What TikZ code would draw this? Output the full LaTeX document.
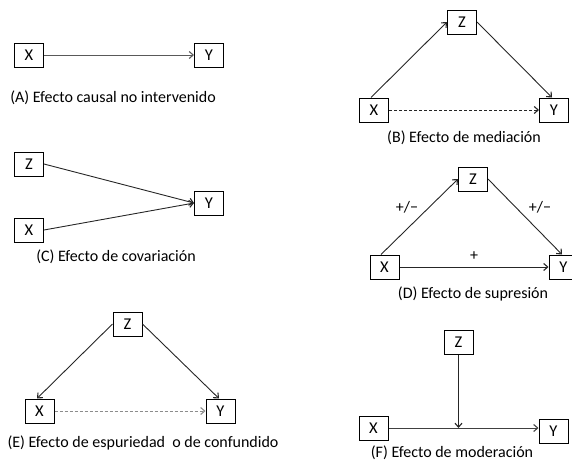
\documentclass[tikz,border=0pt]{standalone}
\usepackage{fontspec}
\setmainfont{Carlito}
\usetikzlibrary{arrows.meta,calc}
\begin{document}
\begin{tikzpicture}[x=1pt,y=-1pt,
  vbox/.style={draw=black,line width=1pt,minimum width=29pt,minimum height=24pt,inner sep=0pt,font=\fontsize{16.5}{18}\selectfont},
  captxt/.style={inner sep=0pt,font=\fontsize{16}{18}\selectfont},
  sgn/.style={inner sep=0pt,font=\fontsize{16}{18}\selectfont},
  arr/.style={line width=0.9pt,draw=black!85,-{Straight Barb[length=4pt,width=7pt,line width=1.1pt]}},
  dasharr/.style={arr,dash pattern=on 3pt off 2pt},
  grayarr/.style={arr,draw=black!45,dash pattern=on 3pt off 2pt}]
\useasboundingbox (0,0) rectangle (572,464);
% (A)
\node[vbox] (XA) at (29,55) {X};
\node[vbox] (YA) at (209,55) {Y};
\node[captxt] (LA) at (113,98) {(A) Efecto causal no intervenido};
\draw[arr,draw=black!65] (XA.east) -- (YA.west);
% (B)
\node[vbox] (ZB) at (462,22) {Z};
\node[vbox] (XB) at (374,110) {X};
\node[vbox] (YB) at (554,110) {Y};
\node[captxt] (LB) at (464,138) {(B) Efecto de mediación};
\coordinate (XBt) at ($(XB.north)+(-3,0)$);
\coordinate (YBt) at ($(YB.north)+(-2,0)$);
\draw[arr] (XBt) -- (ZB.west);
\draw[arr] (ZB.east) -- (YBt);
\draw[dasharr] (XB.east) -- (YB.west);
% (C)
\node[vbox] (ZC) at (29,164) {Z};
\node[vbox] (XC) at (29,230) {X};
\node[vbox] (YC) at (209,203) {Y};
\node[captxt] (LC) at (116,257) {(C) Efecto de covariación};
\draw[arr] (ZC.east) -- (YC.west);
\draw[arr] (XC.east) -- (YC.west);
% (D)
\node[vbox] (ZD) at (473,179) {Z};
\node[vbox] (XD) at (384.5,267) {X};
\node[vbox] (YD) at (563.5,267) {Y};
\node[captxt] (LD) at (473,294) {(D) Efecto de supresión};
\coordinate (XDt) at ($(XD.north)+(-3.5,0)$);
\coordinate (YDt) at ($(YD.north)+(-1.5,0)$);
\draw[arr] (XDt) -- (ZD.west);
\draw[arr] (ZD.east) -- (YDt);
\draw[arr] (XD.east) -- (YD.west);
\node[sgn] (S1) at (407,207) {+/−};
\node[sgn] (S2) at (540,207) {+/−};
\node[sgn] (S3) at (474,256) {+};
% (E)
\node[vbox] (ZE) at (127.5,324) {Z};
\node[vbox] (XE) at (39.5,411) {X};
\node[vbox] (YE) at (220.5,411) {Y};
\node[captxt] (LE) at (143,443) {(E) Efecto de espuriedad\ \ o de confundido};
\coordinate (XEt) at ($(XE.north)+(-2.5,0)$);
\coordinate (YEt) at ($(YE.north)+(-1.5,0)$);
\draw[arr] (ZE.west) -- (XEt);
\draw[arr] (ZE.east) -- (YEt);
\draw[grayarr] (XE.east) -- (YE.west);
% (F)
\node[vbox] (ZF) at (458.5,342.5) {Z};
\node[vbox] (XF) at (373.5,428) {X};
\node[vbox] (YF) at (553.5,431) {Y};
\node[captxt] (LF) at (452,453) {(F) Efecto de moderación};
\coordinate (MF) at (ZF.south |- XF.east);
\draw[arr,draw=black!75] (XF.east) -- (XF.east -| YF.west);
\draw[arr] (ZF.south) -- (MF);
\end{tikzpicture}
\end{document}
